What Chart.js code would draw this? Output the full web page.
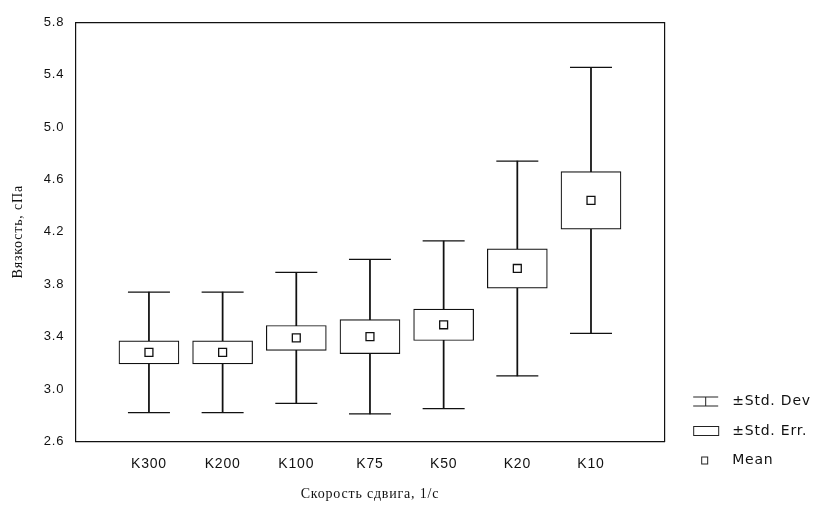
<!DOCTYPE html>
<html><head><meta charset="utf-8">
<script src="https://cdn.jsdelivr.net/npm/chart.js@4"></script>
<style>html,body{margin:0;padding:0;background:#fff}</style>
</head><body>
<canvas id="c" width="820" height="507"></canvas>
<script>
// ---- data ----
const categories = ['K300', 'K200', 'K100', 'K75', 'K50', 'K20', 'K10'];
const means  = [3.28, 3.28, 3.39, 3.40, 3.49, 3.92, 4.44];
const stdErr = [0.088, 0.088, 0.095, 0.13, 0.12, 0.15, 0.22];
const stdDev = [0.46, 0.46, 0.50, 0.59, 0.64, 0.82, 1.015];
const yMin = 2.6, yMax = 5.8, yStep = 0.4;
const legendLabels = ['±Std. Dev.', '±Std. Err.', 'Mean'];
const xTitle = 'Скорость сдвига, 1/с';
const yTitle = 'Вязкость, сПа';

// ---- derived tables for the library ----
const labels = ['', ...categories, ''];
const pad = a => [null, ...a, null];
const seBox  = pad(means.map((m, i) => [m - stdErr[i], m + stdErr[i]]));
const sdStem = pad(means.map((m, i) => [m - stdDev[i], m + stdDev[i]]));
const sdHigh = pad(means.map((m, i) => m + stdDev[i]));
const sdLow  = pad(means.map((m, i) => m - stdDev[i]));
const meanPts = pad(means);

// legend icons
function icon(draw) {
  const c = document.createElement('canvas');
  c.width = 33; c.height = 14;
  const g = c.getContext('2d');
  g.strokeStyle = '#222'; g.lineWidth = 1;
  draw(g);
  return c;
}
const icons = [
  icon(g => { g.beginPath(); g.moveTo(1, 2.5); g.lineTo(26, 2.5); g.moveTo(1, 11.5); g.lineTo(26, 11.5);
              g.moveTo(13.5, 2.5); g.lineTo(13.5, 11.5); g.stroke(); }),
  icon(g => { g.strokeRect(1.5, 2.5, 25, 9); }),
  icon(g => { g.strokeRect(9.5, 3.5, 6, 7); })
];

const sans = 'Liberation Sans, Arial, sans-serif';
const serif = 'Liberation Serif, Times New Roman, serif';

const spacing = {
  id: 'spacing',
  beforeUpdate(chart) { chart.ctx.letterSpacing = '0.8px'; },
  beforeDraw(chart) { chart.ctx.letterSpacing = '0.8px'; }
};

new Chart(document.getElementById('c'), {
  data: {
    labels: labels,
    datasets: [
      { type: 'line', data: meanPts, showLine: false, pointStyle: 'rect', pointRadius: 5.6,
        pointBackgroundColor: '#fff', pointBorderColor: '#111', pointBorderWidth: 1.3,
        xAxisID: 'x', yAxisID: 'y' },
      { type: 'bar', data: seBox, backgroundColor: '#fff', borderColor: '#111', borderWidth: 1.2,
        borderSkipped: false, barThickness: 60, grouped: false, xAxisID: 'x', yAxisID: 'y' },
      { type: 'bar', data: sdStem, backgroundColor: '#111', borderWidth: 0,
        barThickness: 1.1, grouped: false, xAxisID: 'x', yAxisID: 'y' },
      { type: 'line', data: sdHigh, showLine: false, pointStyle: 'line', pointRadius: 21,
        pointBorderColor: '#111', pointBorderWidth: 1.2, xAxisID: 'x', yAxisID: 'y' },
      { type: 'line', data: sdLow, showLine: false, pointStyle: 'line', pointRadius: 21,
        pointBorderColor: '#111', pointBorderWidth: 1.2, xAxisID: 'x', yAxisID: 'y' }
    ]
  },
  options: {
    responsive: false,
    animation: false,
    events: [],
    devicePixelRatio: 1,
    layout: { padding: { left: 10, top: 13, right: 10, bottom: 4 } },
    plugins: {
      tooltip: { enabled: false },
      legend: {
        position: 'right',
        align: 'start',
        onClick: null,
        title: { display: true, text: ' ', font: { size: 10 }, padding: { top: 354, bottom: 0 } },
        labels: {
          usePointStyle: true,
          pointStyleWidth: 33,
          padding: 15.5,
          color: '#111',
          font: { family: 'DejaVu Sans, sans-serif', size: 14 },
          generateLabels: () => legendLabels.map((t, i) => ({
            text: t, pointStyle: icons[i], hidden: false, lineWidth: 0,
            fillStyle: '#fff', strokeStyle: '#fff', fontColor: '#111', datasetIndex: i
          }))
        }
      }
    },
    scales: {
      x: {
        type: 'category', position: 'bottom', offset: false,
        grid: { display: false, drawTicks: false },
        border: { display: true, color: '#111', width: 1.2 },
        ticks: { color: '#111', font: { family: sans, size: 14 }, padding: 14, autoSkip: false, maxRotation: 0 },
        title: { display: true, text: xTitle, color: '#111', font: { family: serif, size: 14 }, padding: { top: 0, bottom: 0 } }
      },
      x2: {
        type: 'category', position: 'top', offset: false, labels: labels,
        grid: { display: false, drawTicks: false }, ticks: { display: false },
        border: { display: true, color: '#111', width: 1.2 }
      },
      y: {
        type: 'linear', position: 'left', min: yMin, max: yMax,
        grid: { display: false, drawTicks: false },
        border: { display: true, color: '#111', width: 1.2 },
        ticks: { stepSize: yStep, color: '#111', font: { family: sans, size: 13 }, padding: 11,
                 callback: v => v.toFixed(1) },
        title: { display: true, text: yTitle, color: '#111', font: { family: serif, size: 14 }, padding: { top: 0, bottom: 6 } }
      },
      y2: {
        type: 'linear', position: 'right', min: yMin, max: yMax,
        grid: { display: false, drawTicks: false }, ticks: { display: false },
        border: { display: true, color: '#111', width: 1.2 },
        afterFit: scale => { scale.width += 12; }
      }
    }
  },
  plugins: [spacing]
});
</script>
</body></html>
